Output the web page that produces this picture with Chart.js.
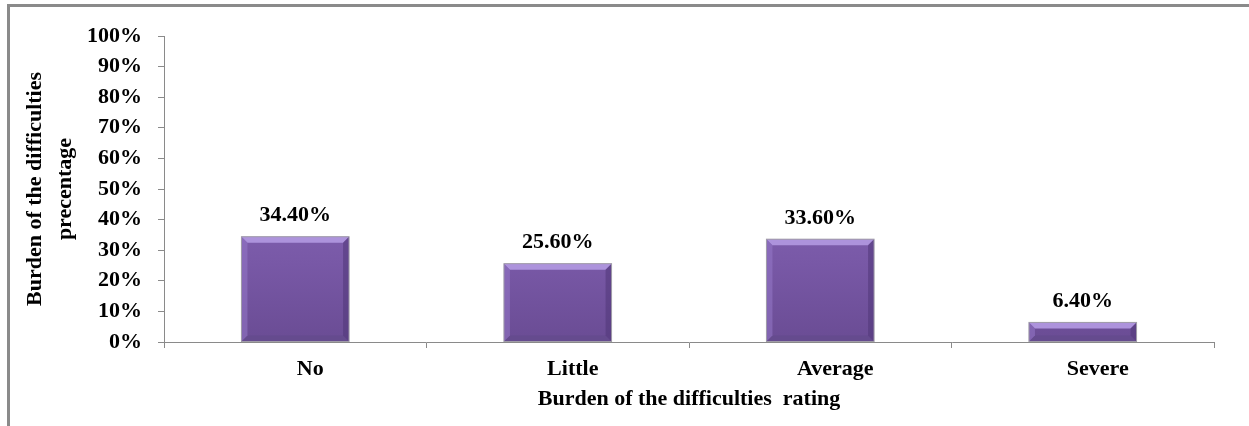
<!DOCTYPE html>
<html lang="en">
<head>
    <meta charset="UTF-8">
    <title>Burden of the difficulties rating</title>
    <script src="https://cdn.jsdelivr.net/npm/chart.js"></script>
    <style>
        html, body {
            margin: 0;
            padding: 0;
            background: #fff;
            overflow: hidden;
        }
        .frame {
            position: absolute;
            left: 7px;
            top: 4px;
            width: 1260px;
            height: 440px;
            border: 3px solid #8a8a8a;
            box-sizing: border-box;
        }
        .chart-box {
            position: absolute;
            left: 0;
            top: 0;
            width: 1249px;
            height: 426px;
        }
    </style>
</head>
<body>
    <div class="frame"></div>
    <div class="chart-box">
        <canvas id="burdenChart" width="1249" height="426"></canvas>
    </div>
    <script>
        const categories = ['No', 'Little', 'Average', 'Severe'];
        const percentValues = [34.4, 25.6, 33.6, 6.4];
        const valueLabels = ['34.40%', '25.60%', '33.60%', '6.40%'];
        const yTickValues = [0, 10, 20, 30, 40, 50, 60, 70, 80, 90, 100];

        const fontFamily = '"Liberation Serif", "Times New Roman", serif';

        // bevelled purple bars, drawn over the normal bar fill
        const bevelPlugin = {
            id: 'bevel',
            afterDatasetsDraw(chart) {
                const ctx = chart.ctx;
                const meta = chart.getDatasetMeta(0);
                meta.data.forEach(bar => {
                    const left = bar.x - bar.width / 2;
                    const right = bar.x + bar.width / 2;
                    const top = bar.y;
                    const bottom = bar.base;
                    const h = bottom - top;
                    const b = Math.min(6, h / 3);
                    ctx.save();
                    // top bevel
                    ctx.beginPath();
                    ctx.moveTo(left, top);
                    ctx.lineTo(right, top);
                    ctx.lineTo(right - b, top + b);
                    ctx.lineTo(left + b, top + b);
                    ctx.closePath();
                    ctx.fillStyle = '#ad93dc';
                    ctx.fill();
                    // bottom bevel
                    ctx.beginPath();
                    ctx.moveTo(left, bottom);
                    ctx.lineTo(right, bottom);
                    ctx.lineTo(right - b, bottom - b);
                    ctx.lineTo(left + b, bottom - b);
                    ctx.closePath();
                    ctx.fillStyle = '#654b8e';
                    ctx.fill();
                    // left bevel
                    ctx.beginPath();
                    ctx.moveTo(left, top);
                    ctx.lineTo(left + b, top + b);
                    ctx.lineTo(left + b, bottom - b);
                    ctx.lineTo(left, bottom);
                    ctx.closePath();
                    ctx.fillStyle = 'rgba(150,120,200,0.55)';
                    ctx.fill();
                    // right bevel
                    ctx.beginPath();
                    ctx.moveTo(right, top);
                    ctx.lineTo(right - b, top + b);
                    ctx.lineTo(right - b, bottom - b);
                    ctx.lineTo(right, bottom);
                    ctx.closePath();
                    ctx.fillStyle = 'rgba(80,55,120,0.55)';
                    ctx.fill();
                    ctx.strokeStyle = '#a09ca8';
                    ctx.lineWidth = 1;
                    ctx.strokeRect(left, top, right - left, h);
                    ctx.restore();
                });
            }
        };

        const valueLabelPlugin = {
            id: 'valueLabels',
            afterDatasetsDraw(chart) {
                const ctx = chart.ctx;
                const meta = chart.getDatasetMeta(0);
                ctx.save();
                ctx.font = 'bold 22px ' + fontFamily;
                ctx.fillStyle = '#000';
                ctx.textAlign = 'center';
                ctx.textBaseline = 'bottom';
                meta.data.forEach((bar, i) => {
                    ctx.fillText(valueLabels[i], bar.x, bar.y - 10);
                });
                ctx.restore();
            }
        };

        const ctx = document.getElementById('burdenChart').getContext('2d');

        function barGradient(context) {
            const chartArea = context.chart.chartArea;
            if (!chartArea) return '#7458a0';
            const g = context.chart.ctx.createLinearGradient(0, chartArea.top + 150, 0, chartArea.bottom);
            g.addColorStop(0, '#8464b4');
            g.addColorStop(0.5, '#7858a6');
            g.addColorStop(1, '#6a4c94');
            return g;
        }

        new Chart(ctx, {
            type: 'bar',
            data: {
                labels: categories,
                datasets: [{
                    data: percentValues,
                    backgroundColor: barGradient,
                    borderWidth: 0,
                    categoryPercentage: 1.0,
                    barPercentage: 0.41
                }]
            },
            options: {
                responsive: false,
                animation: false,
                events: [],
                layout: {
                    padding: { left: 20, right: 35, top: 36, bottom: 13 }
                },
                plugins: {
                    legend: { display: false },
                    tooltip: { enabled: false }
                },
                scales: {
                    x: {
                        afterFit(axis) { axis.height = 71; },
                        grid: {
                            display: true,
                            drawOnChartArea: false,
                            offset: true,
                            color: '#8a8a8a',
                            tickLength: 6
                        },
                        border: { color: '#8a8a8a', width: 1 },
                        ticks: {
                            color: '#000',
                            font: { family: fontFamily, size: 22, weight: 'bold' },
                            labelOffset: 15,
                            padding: 8
                        },
                        title: {
                            display: true,
                            text: 'Burden of the difficulties  rating',
                            color: '#000',
                            font: { family: fontFamily, size: 22, weight: 'bold' },
                            padding: { top: 0, bottom: 0 }
                        }
                    },
                    y: {
                        min: 0,
                        max: 100,
                        afterFit(axis) { axis.width = 144; },
                        afterBuildTicks(axis) {
                            axis.ticks = yTickValues.map(v => ({ value: v }));
                        },
                        grid: {
                            display: true,
                            drawOnChartArea: false,
                            color: '#8a8a8a',
                            tickLength: 6
                        },
                        border: { color: '#8a8a8a', width: 1 },
                        ticks: {
                            color: '#000',
                            font: { family: fontFamily, size: 22, weight: 'bold' },
                            padding: 16,
                            callback: v => v + '%'
                        },
                        title: {
                            display: true,
                            text: ['Burden of the difficulties', 'precentage'],
                            color: '#000',
                            font: { family: fontFamily, size: 22, weight: 'bold', lineHeight: 1.36 },
                            padding: { top: 0, bottom: 4 }
                        }
                    }
                }
            },
            plugins: [bevelPlugin, valueLabelPlugin]
        });
    </script>
</body>
</html>
